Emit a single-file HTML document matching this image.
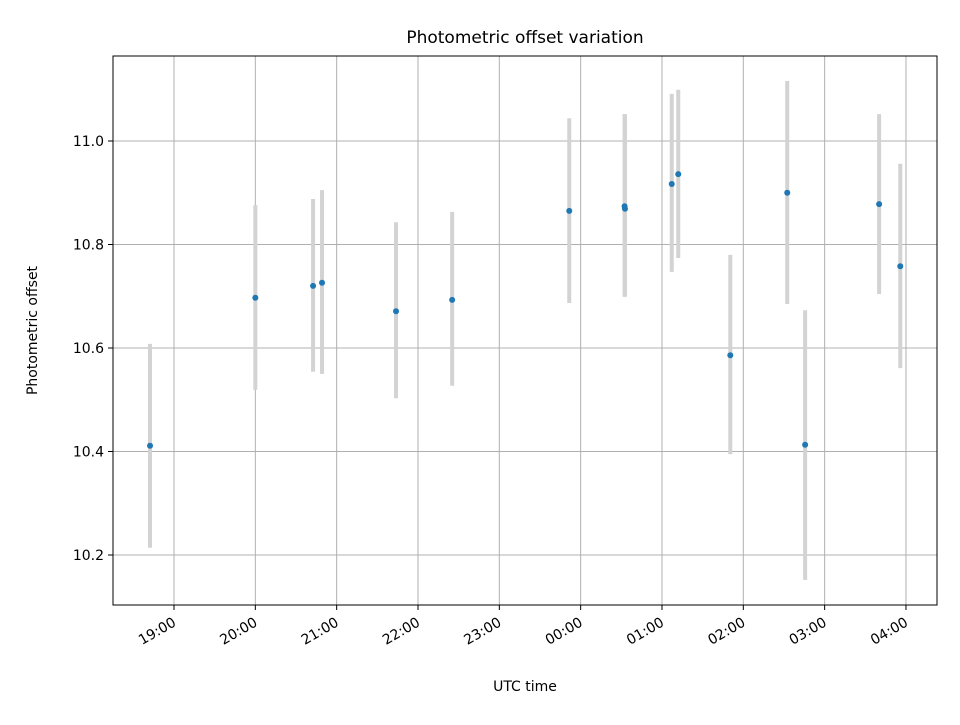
<!DOCTYPE html>
<html><head><meta charset="utf-8"><style>
body{margin:0;background:#fff}
svg text{font-family:"DejaVu Sans","Liberation Sans",sans-serif;fill:#000}
</style></head><body>
<svg id="chart" width="960" height="720" viewBox="0 0 960 720"></svg>
<script>
const times = [-0.295,1.0,1.71,1.82,2.73,3.42,4.86,5.54,5.545,6.12,6.2,6.84,7.54,7.76,8.67,8.93];
const values = [10.411,10.697,10.72,10.726,10.671,10.693,10.865,10.874,10.869,10.917,10.936,10.586,10.9,10.413,10.878,10.758];
const lows = [10.214,10.519,10.554,10.550,10.503,10.527,10.687,10.699,10.699,10.747,10.774,10.395,10.685,10.152,10.704,10.561];
const highs = [10.608,10.876,10.888,10.905,10.843,10.863,11.044,11.052,11.052,11.091,11.099,10.780,11.116,10.673,11.052,10.956];
const xTickLabels = ["19:00","20:00","21:00","22:00","23:00","00:00","01:00","02:00","03:00","04:00"];
const yTickValues = [10.2,10.4,10.6,10.8,11.0];

const NS="http://www.w3.org/2000/svg";
const svg=document.getElementById('chart');
const L=113,R=937,T=56,B=605;
const xs=h=>174+h*81.33;
const ys=v=>141+(11.0-v)*517.5;
function mk(tag,attrs,parent){const e=document.createElementNS(NS,tag);for(const k in attrs)e.setAttribute(k,attrs[k]);(parent||svg).appendChild(e);return e;}

const grid=mk('g',{});


xTickLabels.forEach((lab,i)=>{
  const x=xs(i);
  const gl=mk('line',{x1:x,x2:x,y1:T,y2:B,stroke:'#b0b0b0','stroke-width':1},grid);
  
  
  mk('line',{x1:x,x2:x,y1:B,y2:B+5,stroke:'#000','stroke-width':1});
  const ax=x+3, ay=B+20;
  const t=mk('text',{x:ax,y:ay,'font-size':14,'text-anchor':'end',transform:`rotate(-30 ${ax} ${ay})`});
  t.textContent=lab;
  
  
});
yTickValues.forEach(v=>{
  const y=ys(v);
  const gl=mk('line',{x1:L,x2:R,y1:y,y2:y,stroke:'#b0b0b0','stroke-width':1},grid);
  
  
  mk('line',{x1:L-5,x2:L,y1:y,y2:y,stroke:'#000','stroke-width':1});
  const t=mk('text',{x:L-9,y:y+5,'font-size':14,'text-anchor':'end'});
  t.textContent=v.toFixed(1);
  
  
});
times.forEach((h,i)=>{
  const x=xs(h);
  const eb=mk('line',{x1:x,x2:x,y1:ys(lows[i]),y2:ys(highs[i]),stroke:'#d3d3d3','stroke-width':4});
  
  
});
times.forEach((h,i)=>{
  const c=mk('circle',{cx:xs(h),cy:ys(values[i]),r:3,fill:'#1f77b4'});
  
  
});
const frame=mk('rect',{x:L,y:T,width:R-L,height:B-T,fill:'none',stroke:'#000','stroke-width':1});


const title=mk('text',{x:(L+R)/2,y:43,'font-size':17,'text-anchor':'middle'});
title.textContent='Photometric offset variation';


const xt=mk('text',{x:(L+R)/2,y:691,'font-size':14,'text-anchor':'middle'});
xt.textContent='UTC time';


const yt=mk('text',{x:37,y:(T+B)/2,'font-size':14,'text-anchor':'middle',transform:`rotate(-90 37 ${(T+B)/2})`});
yt.textContent='Photometric offset';


</script>
</body></html>
